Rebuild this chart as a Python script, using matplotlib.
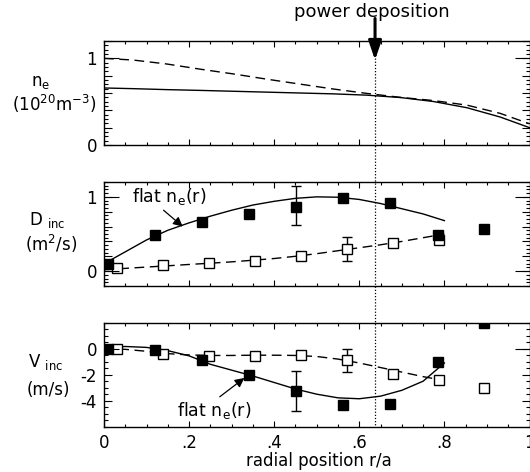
import numpy as np
import matplotlib
matplotlib.use("Agg")
import matplotlib.pyplot as plt
from matplotlib.ticker import MultipleLocator
from matplotlib.lines import Line2D
import matplotlib.transforms as mtrans

plt.rcParams['font.family'] = ['DejaVu Sans']
plt.rcParams['mathtext.fontset'] = 'dejavusans'

# density profiles (top panel)
r_ne = [0, 0.069, 0.147, 0.226, 0.304, 0.382, 0.46, 0.539, 0.618, 0.696, 0.774, 0.853, 0.931, 1.0]
ne_peaked = [1.0, 0.98, 0.935, 0.875, 0.82, 0.76, 0.703, 0.646, 0.595, 0.55, 0.513, 0.46, 0.365, 0.245]
ne_flat = [0.658, 0.65, 0.639, 0.63, 0.62, 0.61, 0.60, 0.59, 0.575, 0.548, 0.502, 0.43, 0.323, 0.2]

# fitted curves, D and V
r_fit = [0.0, 0.05, 0.1, 0.15, 0.2, 0.25, 0.3, 0.35, 0.4, 0.45, 0.5, 0.55, 0.6, 0.65, 0.7, 0.75, 0.8]
D_flat_fit = [0.1, 0.26, 0.42, 0.55, 0.65, 0.74, 0.82, 0.89, 0.94, 0.98, 1.0, 0.995, 0.965, 0.91, 0.84, 0.77, 0.68]
D_peak_fit = [0.02, 0.037, 0.055, 0.072, 0.09, 0.107, 0.125, 0.147, 0.17, 0.2, 0.235, 0.275, 0.315, 0.355, 0.4, 0.45, 0.5]
V_flat_fit = [0.1, 0.17, 0.1, -0.15, -0.55, -1.2, -1.65, -2.1, -2.6, -3.1, -3.5, -3.78, -3.85, -3.65, -3.2, -2.5, -1.1]
V_peak_fit = [0.0, -0.05, -0.2, -0.38, -0.48, -0.52, -0.52, -0.5, -0.5, -0.52, -0.6, -0.8, -1.1, -1.45, -1.8, -2.15, -2.45]

# measured points
r_filled = [0.01, 0.12, 0.23, 0.34, 0.452, 0.562, 0.672, 0.784, 0.894]
D_filled = [0.098, 0.493, 0.658, 0.769, 0.867, 0.987, 0.911, 0.493, 0.569]
V_filled = [0.0, -0.13, -0.9, -2.0, -3.23, -4.33, -4.26, -1.03, 2.0]
r_open = [0.03, 0.138, 0.247, 0.355, 0.462, 0.571, 0.679, 0.787, 0.894]
D_open = [0.036, 0.076, 0.107, 0.138, 0.209, 0.302, 0.382, 0.413]
V_open = [-0.03, -0.38, -0.59, -0.54, -0.49, -0.9, -1.92, -2.44, -3.05]

# error bars (x, value, low, high)
D_err_filled = (0.452, 0.867, 0.618, 1.147)
D_err_open = (0.571, 0.302, 0.142, 0.458)
V_err_filled = (0.452, -3.23, -4.82, -1.72)
V_err_open = (0.571, -0.9, -1.82, 0.0)

r_power = 0.637

xtick_vals = [0, 0.2, 0.4, 0.6, 0.8, 1.0]
xtick_labels = ['0', '.2', '.4', '.6', '.8', '1']

fig = plt.figure(figsize=(5.3, 4.72), dpi=100)
L, W, H = 104 / 530, 425.5 / 530, 104 / 472
ax1 = fig.add_axes([L, 1 - 145 / 472, W, H])
ax2 = fig.add_axes([L, 1 - 286 / 472, W, H])
ax3 = fig.add_axes([L, 1 - 426.7 / 472, W, H])


def style(ax, ylim, mid, mid_labels, long_t, minor):
    # twin first: twinx() resets the tick side of ax
    tw = ax.twinx()
    tw.set_ylim(*ylim)
    tw.set_yticks(long_t)
    tw.yaxis.set_ticks_position('both')
    tw.tick_params(direction='in', length=11, width=0.8, labelleft=False, labelright=False)
    for s in tw.spines.values():
        s.set_visible(False)

    ax.set_xlim(0, 1)
    ax.set_ylim(*ylim)
    ax.set_yticks(mid, mid_labels)
    ax.yaxis.set_minor_locator(MultipleLocator(minor))
    ax.set_xticks(xtick_vals)
    ax.xaxis.set_minor_locator(MultipleLocator(0.05))
    ax.yaxis.set_ticks_position('both')
    ax.xaxis.set_ticks_position('both')
    ax.tick_params(which='both', direction='in', width=0.8)
    ax.tick_params(axis='y', which='major', length=6, pad=5, labelsize=12,
                   labelleft=True, labelright=False)
    ax.tick_params(axis='y', which='minor', length=3)
    ax.tick_params(axis='x', which='major', length=4.5, pad=5, labelsize=12,
                   labelbottom=True, labeltop=False)
    ax.tick_params(axis='x', which='minor', length=2.5)
    for s in ax.spines.values():
        s.set_linewidth(1.0)


style(ax1, (0, 1.2), [0, 0.2, 0.4, 0.6, 0.8, 1.0, 1.2], ['0', '', '', '', '', '1', ''], [1.0], 0.05)
style(ax2, (-0.2, 1.2), [0, 0.2, 0.4, 0.6, 0.8, 1.0], ['0', '', '', '', '', '1'], [0, 1.0], 0.05)
style(ax3, (-6, 2), [-4, -2, 0], ['-4', '-2', '0'], [0], 0.5)
ax1.set_xticklabels([])
ax2.set_xticklabels([])
ax3.set_xticklabels(xtick_labels)

dash = (7, 4)

# top panel
ax1.plot(r_ne, ne_flat, color='black', lw=1.0)
ax1.plot(r_ne, ne_peaked, color='black', lw=1.0, dashes=dash)

# D panel
ax2.plot(r_fit, D_flat_fit, color='black', lw=1.0)
ax2.plot(r_fit, D_peak_fit, color='black', lw=1.0, dashes=dash)
ax2.plot(r_open[:len(D_open)], D_open, 's', ms=7, mfc='white', mec='black', mew=1.0, zorder=3)
ax2.plot(r_filled, D_filled, 's', ms=7.5, color='black', zorder=4)
for x, v, lo, hi in (D_err_filled, D_err_open):
    ax2.errorbar([x], [v], yerr=[[v - lo], [hi - v]], fmt='none', ecolor='black',
                 elinewidth=1.0, capsize=3.5, capthick=1.0, zorder=2)

# V panel
ax3.plot(r_fit, V_flat_fit, color='black', lw=1.0)
ax3.plot(r_fit, V_peak_fit, color='black', lw=1.0, dashes=dash)
ax3.plot(r_open, V_open, 's', ms=7, mfc='white', mec='black', mew=1.0, zorder=3)
ax3.plot(r_filled, V_filled, 's', ms=7.5, color='black', zorder=4)
for x, v, lo, hi in (V_err_filled, V_err_open):
    ax3.errorbar([x], [v], yerr=[[v - lo], [hi - v]], fmt='none', ecolor='black',
                 elinewidth=1.0, capsize=3.5, capthick=1.0, zorder=2)

# annotations
arrow_kw = dict(arrowstyle='-|>', color='black', lw=0.9, mutation_scale=14,
                shrinkA=0, shrinkB=0)
ax2.text(0.065, 1.0, r'flat n$_{\rm e}$(r)', fontsize=12.5, ha='left', va='center')
ax2.annotate('', xy=(0.185, 0.6), xytext=(0.14, 0.82), arrowprops=arrow_kw)
ax3.text(0.172, -4.75, r'flat n$_{\rm e}$(r)', fontsize=12.5, ha='left', va='center')
ax3.annotate('', xy=(0.33, -2.25), xytext=(0.272, -3.7), arrowprops=arrow_kw)

# power deposition marker
fig.text(371.5 / 530, 1 - 12 / 472, 'power deposition', fontsize=13, ha='center', va='center')
ax1.annotate('', xy=(r_power, 0.98), xytext=(r_power, 1.46), annotation_clip=False,
             arrowprops=dict(arrowstyle='-|>,head_width=0.28,head_length=0.82', color='black',
                             lw=2.2, mutation_scale=14, shrinkA=0, shrinkB=0))
btr = mtrans.blended_transform_factory(ax1.transData, fig.transFigure)
fig.add_artist(Line2D([r_power, r_power], [1 - 58 / 472, 1 - 426.7 / 472], transform=btr,
                      color='black', lw=0.9, ls=(0, (1, 1.5))))

# y labels
fig.text(41 / 530, 1 - 82 / 472, r'n$_{\rm e}$', fontsize=12, ha='center', va='center')
fig.text(54 / 530, 1 - 104 / 472, r'(10$^{20}$m$^{-3}$)', fontsize=12, ha='center', va='center')
fig.text(47 / 530, 1 - 220 / 472, r'D $_{\rm inc}$', fontsize=12, ha='center', va='center')
fig.text(51 / 530, 1 - 244 / 472, r'(m$^{2}$/s)', fontsize=12, ha='center', va='center')
fig.text(46 / 530, 1 - 362 / 472, r'V $_{\rm inc}$', fontsize=12, ha='center', va='center')
fig.text(48 / 530, 1 - 390 / 472, '(m/s)', fontsize=12, ha='center', va='center')

fig.text(319 / 530, 1 - 461 / 472, 'radial position r/a', fontsize=12, ha='center', va='center')

fig.savefig('out.png', dpi=100)
